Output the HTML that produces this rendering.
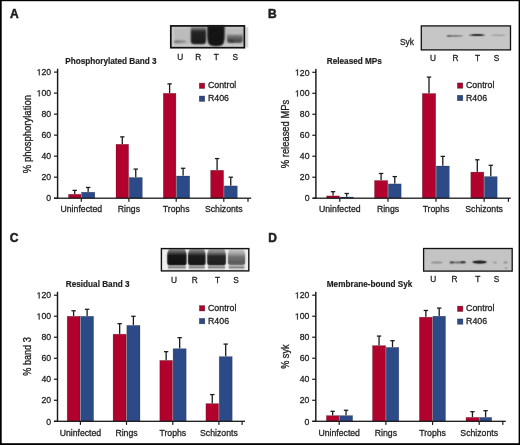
<!DOCTYPE html><html><head><meta charset="utf-8"><style>
html,body{margin:0;padding:0;background:#fff;width:520px;height:445px;overflow:hidden}
svg{display:block;will-change:transform}
text{font-family:"Liberation Sans",sans-serif;fill:#1e1e1e;stroke:#1e1e1e;stroke-width:0.28px}
.b{font-weight:bold;stroke-width:0.18px}
</style></head><body>
<svg width="520" height="445" viewBox="0 0 520 445">
<defs><filter id="bl1" x="-20%" y="-50%" width="140%" height="200%"><feGaussianBlur stdDeviation="0.8"/></filter><filter id="bl3" color-interpolation-filters="sRGB" x="-30%" y="-300%" width="160%" height="700%"><feConvolveMatrix order="3" kernelMatrix="0.02768 0.11101 0.02768 0.11101 0.44521 0.11101 0.02768 0.11101 0.02768" edgeMode="none"/></filter><filter id="bl4" color-interpolation-filters="sRGB" x="-20%" y="-50%" width="140%" height="200%"><feConvolveMatrix order="5" kernelMatrix="0.00048 0.00501 0.01095 0.00501 0.00048 0.00501 0.05222 0.11405 0.05222 0.00501 0.01095 0.11405 0.24912 0.11405 0.01095 0.00501 0.05222 0.11405 0.05222 0.00501 0.00048 0.00501 0.01095 0.00501 0.00048" edgeMode="none"/></filter><filter id="bl2" color-interpolation-filters="sRGB" x="-20%" y="-50%" width="140%" height="200%"><feConvolveMatrix order="3" kernelMatrix="0.01917 0.10012 0.01917 0.10012 0.52283 0.10012 0.01917 0.10012 0.01917" edgeMode="none"/></filter></defs>
<rect width="520" height="445" fill="#fff"/>
<text class="b" style="stroke-width:0.5px" x="9.9" y="17.8" font-size="12">A</text>
<text class="b" x="65.2" y="63.7" font-size="8.2">Phosphorylated Band 3</text>
<rect x="68.5" y="194.3" width="12.4" height="3.9" fill="#b0022c" stroke="rgba(0,0,0,0.3)" stroke-width="0.6"/>
<rect x="81.5" y="192.2" width="13.3" height="6" fill="#2d4a88" stroke="rgba(0,0,0,0.3)" stroke-width="0.6"/>
<rect x="74.05" y="190.35" width="1.3" height="3.65" fill="#1a1a1a"/>
<rect x="72.5" y="189.75" width="4.4" height="1.25" fill="#1a1a1a"/>
<rect x="87.5" y="187.45" width="1.3" height="4.45" fill="#1a1a1a"/>
<rect x="85.95" y="186.85" width="4.4" height="1.25" fill="#1a1a1a"/>
<rect x="116" y="144.3" width="12.6" height="53.9" fill="#b0022c" stroke="rgba(0,0,0,0.3)" stroke-width="0.6"/>
<rect x="129.2" y="177.5" width="13.1" height="20.7" fill="#2d4a88" stroke="rgba(0,0,0,0.3)" stroke-width="0.6"/>
<rect x="121.65" y="136.85" width="1.3" height="7.15" fill="#1a1a1a"/>
<rect x="120.1" y="136.25" width="4.4" height="1.25" fill="#1a1a1a"/>
<rect x="135.1" y="169.05" width="1.3" height="8.15" fill="#1a1a1a"/>
<rect x="133.55" y="168.45" width="4.4" height="1.25" fill="#1a1a1a"/>
<rect x="163.3" y="93.3" width="12.6" height="104.9" fill="#b0022c" stroke="rgba(0,0,0,0.3)" stroke-width="0.6"/>
<rect x="176.5" y="176" width="13.2" height="22.2" fill="#2d4a88" stroke="rgba(0,0,0,0.3)" stroke-width="0.6"/>
<rect x="168.95" y="83.85" width="1.3" height="9.15" fill="#1a1a1a"/>
<rect x="167.4" y="83.25" width="4.4" height="1.25" fill="#1a1a1a"/>
<rect x="182.45" y="168.25" width="1.3" height="7.45" fill="#1a1a1a"/>
<rect x="180.9" y="167.65" width="4.4" height="1.25" fill="#1a1a1a"/>
<rect x="210.6" y="170.3" width="13" height="27.9" fill="#b0022c" stroke="rgba(0,0,0,0.3)" stroke-width="0.6"/>
<rect x="224.2" y="185.9" width="13.1" height="12.3" fill="#2d4a88" stroke="rgba(0,0,0,0.3)" stroke-width="0.6"/>
<rect x="216.45" y="158.55" width="1.3" height="11.45" fill="#1a1a1a"/>
<rect x="214.9" y="157.95" width="4.4" height="1.25" fill="#1a1a1a"/>
<rect x="230.1" y="177.15" width="1.3" height="8.45" fill="#1a1a1a"/>
<rect x="228.55" y="176.55" width="4.4" height="1.25" fill="#1a1a1a"/>
<rect x="56.88" y="68.7" width="1.45" height="130.1" fill="#1a1a1a"/>
<rect x="54" y="197.6" width="3.6" height="1.2" fill="#1a1a1a"/>
<text x="46.36" y="201.4" font-size="8.7">0</text>
<rect x="54" y="176.58" width="3.6" height="1.2" fill="#1a1a1a"/>
<text x="41.52" y="180.38" font-size="8.7">2</text>
<text x="46.36" y="180.38" font-size="8.7">0</text>
<rect x="54" y="155.57" width="3.6" height="1.2" fill="#1a1a1a"/>
<text x="41.52" y="159.37" font-size="8.7">4</text>
<text x="46.36" y="159.37" font-size="8.7">0</text>
<rect x="54" y="134.55" width="3.6" height="1.2" fill="#1a1a1a"/>
<text x="41.52" y="138.35" font-size="8.7">6</text>
<text x="46.36" y="138.35" font-size="8.7">0</text>
<rect x="54" y="113.53" width="3.6" height="1.2" fill="#1a1a1a"/>
<text x="41.52" y="117.33" font-size="8.7">8</text>
<text x="46.36" y="117.33" font-size="8.7">0</text>
<rect x="54" y="92.52" width="3.6" height="1.2" fill="#1a1a1a"/>
<path d="M515 0H696V1409H530L197 1180V1010L515 1237Z" transform="translate(36.68 96.32) scale(0.004248 -0.004248)" fill="#1e1e1e" stroke="#1e1e1e" stroke-width="65.91"/>
<text x="41.52" y="96.32" font-size="8.7">0</text>
<text x="46.36" y="96.32" font-size="8.7">0</text>
<rect x="54" y="71.5" width="3.6" height="1.2" fill="#1a1a1a"/>
<path d="M515 0H696V1409H530L197 1180V1010L515 1237Z" transform="translate(36.68 75.3) scale(0.004248 -0.004248)" fill="#1e1e1e" stroke="#1e1e1e" stroke-width="65.91"/>
<text x="41.52" y="75.3" font-size="8.7">2</text>
<text x="46.36" y="75.3" font-size="8.7">0</text>
<rect x="54" y="197.55" width="197.2" height="1.3" fill="#1a1a1a"/>
<rect x="80.7" y="198.2" width="1.2" height="3.6" fill="#1a1a1a"/>
<rect x="128.3" y="198.2" width="1.2" height="3.6" fill="#1a1a1a"/>
<rect x="175.6" y="198.2" width="1.2" height="3.6" fill="#1a1a1a"/>
<rect x="223.2" y="198.2" width="1.2" height="3.6" fill="#1a1a1a"/>
<rect x="247.4" y="198.2" width="1.2" height="3.6" fill="#1a1a1a"/>
<text x="81.3" y="212.4" font-size="8.7" text-anchor="middle">Uninfected</text>
<text x="128.9" y="212.4" font-size="8.7" text-anchor="middle">Rings</text>
<text x="176.2" y="212.4" font-size="8.7" text-anchor="middle">Trophs</text>
<text x="223.8" y="212.4" font-size="8.7" text-anchor="middle">Schizonts</text>
<text x="0" y="0" font-size="9.5" text-anchor="middle" transform="translate(30.8 134.1) rotate(-90) scale(1 1.12)">% phosphorylation</text>
<rect x="199.35" y="83.15" width="5.3" height="5.3" fill="#b0022c" stroke="rgba(0,0,0,0.45)" stroke-width="0.7"/>
<rect x="199.35" y="96.05" width="5.3" height="5.3" fill="#2d4a88" stroke="rgba(0,0,0,0.45)" stroke-width="0.7"/>
<text x="207.9" y="88.4" font-size="8.8">Control</text>
<text x="207.9" y="101.3" font-size="8.8">R406</text>
<text x="180.3" y="60.4" font-size="8.3" text-anchor="middle">U</text>
<text x="198.3" y="60.4" font-size="8.3" text-anchor="middle">R</text>
<text x="216.3" y="60.4" font-size="8.3" text-anchor="middle">T</text>
<text x="235.3" y="60.4" font-size="8.3" text-anchor="middle">S</text>
<text class="b" style="stroke-width:0.5px" x="268.1" y="17.8" font-size="12">B</text>
<text class="b" x="326.8" y="63.5" font-size="8.2">Released MPs</text>
<rect x="326.6" y="195.9" width="12.9" height="2.3" fill="#b0022c" stroke="rgba(0,0,0,0.3)" stroke-width="0.6"/>
<rect x="340.1" y="197" width="13.2" height="1.2" fill="#2d4a88" stroke="rgba(0,0,0,0.3)" stroke-width="0.6"/>
<rect x="332.4" y="191.65" width="1.3" height="3.95" fill="#1a1a1a"/>
<rect x="330.85" y="191.05" width="4.4" height="1.25" fill="#1a1a1a"/>
<rect x="346.05" y="193.45" width="1.3" height="3.25" fill="#1a1a1a"/>
<rect x="344.5" y="192.85" width="4.4" height="1.25" fill="#1a1a1a"/>
<rect x="374.5" y="180.5" width="13.2" height="17.7" fill="#b0022c" stroke="rgba(0,0,0,0.3)" stroke-width="0.6"/>
<rect x="388.3" y="183.9" width="12.9" height="14.3" fill="#2d4a88" stroke="rgba(0,0,0,0.3)" stroke-width="0.6"/>
<rect x="380.45" y="173.45" width="1.3" height="6.75" fill="#1a1a1a"/>
<rect x="378.9" y="172.85" width="4.4" height="1.25" fill="#1a1a1a"/>
<rect x="394.1" y="176.55" width="1.3" height="7.05" fill="#1a1a1a"/>
<rect x="392.55" y="175.95" width="4.4" height="1.25" fill="#1a1a1a"/>
<rect x="422.3" y="93.5" width="13.4" height="104.7" fill="#b0022c" stroke="rgba(0,0,0,0.3)" stroke-width="0.6"/>
<rect x="436.3" y="166" width="13" height="32.2" fill="#2d4a88" stroke="rgba(0,0,0,0.3)" stroke-width="0.6"/>
<rect x="428.35" y="77.05" width="1.3" height="16.15" fill="#1a1a1a"/>
<rect x="426.8" y="76.45" width="4.4" height="1.25" fill="#1a1a1a"/>
<rect x="442.15" y="156.35" width="1.3" height="9.35" fill="#1a1a1a"/>
<rect x="440.6" y="155.75" width="4.4" height="1.25" fill="#1a1a1a"/>
<rect x="470.8" y="172.1" width="13" height="26.1" fill="#b0022c" stroke="rgba(0,0,0,0.3)" stroke-width="0.6"/>
<rect x="484.4" y="176.6" width="12.8" height="21.6" fill="#2d4a88" stroke="rgba(0,0,0,0.3)" stroke-width="0.6"/>
<rect x="476.65" y="159.75" width="1.3" height="12.05" fill="#1a1a1a"/>
<rect x="475.1" y="159.15" width="4.4" height="1.25" fill="#1a1a1a"/>
<rect x="490.15" y="165.25" width="1.3" height="11.05" fill="#1a1a1a"/>
<rect x="488.6" y="164.65" width="4.4" height="1.25" fill="#1a1a1a"/>
<rect x="315.18" y="68.9" width="1.45" height="129.9" fill="#1a1a1a"/>
<rect x="312.3" y="197.6" width="3.6" height="1.2" fill="#1a1a1a"/>
<text x="304.66" y="201.4" font-size="8.7">0</text>
<rect x="312.3" y="176.62" width="3.6" height="1.2" fill="#1a1a1a"/>
<text x="299.82" y="180.42" font-size="8.7">2</text>
<text x="304.66" y="180.42" font-size="8.7">0</text>
<rect x="312.3" y="155.63" width="3.6" height="1.2" fill="#1a1a1a"/>
<text x="299.82" y="159.43" font-size="8.7">4</text>
<text x="304.66" y="159.43" font-size="8.7">0</text>
<rect x="312.3" y="134.65" width="3.6" height="1.2" fill="#1a1a1a"/>
<text x="299.82" y="138.45" font-size="8.7">6</text>
<text x="304.66" y="138.45" font-size="8.7">0</text>
<rect x="312.3" y="113.67" width="3.6" height="1.2" fill="#1a1a1a"/>
<text x="299.82" y="117.47" font-size="8.7">8</text>
<text x="304.66" y="117.47" font-size="8.7">0</text>
<rect x="312.3" y="92.68" width="3.6" height="1.2" fill="#1a1a1a"/>
<path d="M515 0H696V1409H530L197 1180V1010L515 1237Z" transform="translate(294.98 96.48) scale(0.004248 -0.004248)" fill="#1e1e1e" stroke="#1e1e1e" stroke-width="65.91"/>
<text x="299.82" y="96.48" font-size="8.7">0</text>
<text x="304.66" y="96.48" font-size="8.7">0</text>
<rect x="312.3" y="71.7" width="3.6" height="1.2" fill="#1a1a1a"/>
<path d="M515 0H696V1409H530L197 1180V1010L515 1237Z" transform="translate(294.98 75.5) scale(0.004248 -0.004248)" fill="#1e1e1e" stroke="#1e1e1e" stroke-width="65.91"/>
<text x="299.82" y="75.5" font-size="8.7">2</text>
<text x="304.66" y="75.5" font-size="8.7">0</text>
<rect x="312.7" y="197.55" width="198.1" height="1.3" fill="#1a1a1a"/>
<rect x="339.2" y="198.2" width="1.2" height="3.6" fill="#1a1a1a"/>
<rect x="387.4" y="198.2" width="1.2" height="3.6" fill="#1a1a1a"/>
<rect x="435.4" y="198.2" width="1.2" height="3.6" fill="#1a1a1a"/>
<rect x="483.5" y="198.2" width="1.2" height="3.6" fill="#1a1a1a"/>
<rect x="507.8" y="198.2" width="1.2" height="3.6" fill="#1a1a1a"/>
<text x="339.8" y="212.4" font-size="8.7" text-anchor="middle">Uninfected</text>
<text x="388" y="212.4" font-size="8.7" text-anchor="middle">Rings</text>
<text x="436" y="212.4" font-size="8.7" text-anchor="middle">Trophs</text>
<text x="484.1" y="212.4" font-size="8.7" text-anchor="middle">Schizonts</text>
<text x="0" y="0" font-size="9.4" text-anchor="middle" transform="translate(289.1 134) rotate(-90) scale(1 1.12)">% released MPs</text>
<rect x="457.45" y="82.95" width="5.3" height="5.3" fill="#b0022c" stroke="rgba(0,0,0,0.45)" stroke-width="0.7"/>
<rect x="457.45" y="95.35" width="5.3" height="5.3" fill="#2d4a88" stroke="rgba(0,0,0,0.45)" stroke-width="0.7"/>
<text x="466" y="88.2" font-size="8.8">Control</text>
<text x="466" y="100.6" font-size="8.8">R406</text>
<text x="433.1" y="60.7" font-size="8.3" text-anchor="middle">U</text>
<text x="455.5" y="60.7" font-size="8.3" text-anchor="middle">R</text>
<text x="477.5" y="60.7" font-size="8.3" text-anchor="middle">T</text>
<text x="496.6" y="60.7" font-size="8.3" text-anchor="middle">S</text>
<text class="b" style="stroke-width:0.5px" x="9.7" y="241.7" font-size="12">C</text>
<text class="b" x="65.8" y="287.3" font-size="8.2">Residual Band 3</text>
<rect x="67.2" y="316.3" width="12.8" height="105" fill="#b0022c" stroke="rgba(0,0,0,0.3)" stroke-width="0.6"/>
<rect x="80.6" y="316.3" width="13" height="105" fill="#2d4a88" stroke="rgba(0,0,0,0.3)" stroke-width="0.6"/>
<rect x="72.95" y="310.75" width="1.3" height="5.25" fill="#1a1a1a"/>
<rect x="71.4" y="310.15" width="4.4" height="1.25" fill="#1a1a1a"/>
<rect x="86.45" y="309.25" width="1.3" height="6.75" fill="#1a1a1a"/>
<rect x="84.9" y="308.65" width="4.4" height="1.25" fill="#1a1a1a"/>
<rect x="113.1" y="334.2" width="13.1" height="87.1" fill="#b0022c" stroke="rgba(0,0,0,0.3)" stroke-width="0.6"/>
<rect x="126.8" y="325.4" width="13.2" height="95.9" fill="#2d4a88" stroke="rgba(0,0,0,0.3)" stroke-width="0.6"/>
<rect x="119" y="323.65" width="1.3" height="10.25" fill="#1a1a1a"/>
<rect x="117.45" y="323.05" width="4.4" height="1.25" fill="#1a1a1a"/>
<rect x="132.75" y="316.25" width="1.3" height="8.85" fill="#1a1a1a"/>
<rect x="131.2" y="315.65" width="4.4" height="1.25" fill="#1a1a1a"/>
<rect x="159.8" y="360.4" width="12.7" height="60.9" fill="#b0022c" stroke="rgba(0,0,0,0.3)" stroke-width="0.6"/>
<rect x="173.1" y="348.7" width="13.1" height="72.6" fill="#2d4a88" stroke="rgba(0,0,0,0.3)" stroke-width="0.6"/>
<rect x="165.5" y="351.65" width="1.3" height="8.45" fill="#1a1a1a"/>
<rect x="163.95" y="351.05" width="4.4" height="1.25" fill="#1a1a1a"/>
<rect x="179" y="337.65" width="1.3" height="10.75" fill="#1a1a1a"/>
<rect x="177.45" y="337.05" width="4.4" height="1.25" fill="#1a1a1a"/>
<rect x="205.9" y="403.6" width="12.7" height="17.7" fill="#b0022c" stroke="rgba(0,0,0,0.3)" stroke-width="0.6"/>
<rect x="219.2" y="356.6" width="13" height="64.7" fill="#2d4a88" stroke="rgba(0,0,0,0.3)" stroke-width="0.6"/>
<rect x="211.6" y="394.55" width="1.3" height="8.75" fill="#1a1a1a"/>
<rect x="210.05" y="393.95" width="4.4" height="1.25" fill="#1a1a1a"/>
<rect x="225.05" y="344.05" width="1.3" height="12.25" fill="#1a1a1a"/>
<rect x="223.5" y="343.45" width="4.4" height="1.25" fill="#1a1a1a"/>
<rect x="56.78" y="291.8" width="1.45" height="130.1" fill="#1a1a1a"/>
<rect x="53.9" y="420.7" width="3.6" height="1.2" fill="#1a1a1a"/>
<text x="46.26" y="424.5" font-size="8.7">0</text>
<rect x="53.9" y="399.68" width="3.6" height="1.2" fill="#1a1a1a"/>
<text x="41.42" y="403.48" font-size="8.7">2</text>
<text x="46.26" y="403.48" font-size="8.7">0</text>
<rect x="53.9" y="378.67" width="3.6" height="1.2" fill="#1a1a1a"/>
<text x="41.42" y="382.47" font-size="8.7">4</text>
<text x="46.26" y="382.47" font-size="8.7">0</text>
<rect x="53.9" y="357.65" width="3.6" height="1.2" fill="#1a1a1a"/>
<text x="41.42" y="361.45" font-size="8.7">6</text>
<text x="46.26" y="361.45" font-size="8.7">0</text>
<rect x="53.9" y="336.63" width="3.6" height="1.2" fill="#1a1a1a"/>
<text x="41.42" y="340.43" font-size="8.7">8</text>
<text x="46.26" y="340.43" font-size="8.7">0</text>
<rect x="53.9" y="315.62" width="3.6" height="1.2" fill="#1a1a1a"/>
<path d="M515 0H696V1409H530L197 1180V1010L515 1237Z" transform="translate(36.58 319.42) scale(0.004248 -0.004248)" fill="#1e1e1e" stroke="#1e1e1e" stroke-width="65.91"/>
<text x="41.42" y="319.42" font-size="8.7">0</text>
<text x="46.26" y="319.42" font-size="8.7">0</text>
<rect x="53.9" y="294.6" width="3.6" height="1.2" fill="#1a1a1a"/>
<path d="M515 0H696V1409H530L197 1180V1010L515 1237Z" transform="translate(36.58 298.4) scale(0.004248 -0.004248)" fill="#1e1e1e" stroke="#1e1e1e" stroke-width="65.91"/>
<text x="41.42" y="298.4" font-size="8.7">2</text>
<text x="46.26" y="298.4" font-size="8.7">0</text>
<rect x="54" y="420.65" width="191" height="1.3" fill="#1a1a1a"/>
<rect x="79.8" y="421.3" width="1.2" height="3.6" fill="#1a1a1a"/>
<rect x="125.9" y="421.3" width="1.2" height="3.6" fill="#1a1a1a"/>
<rect x="172.2" y="421.3" width="1.2" height="3.6" fill="#1a1a1a"/>
<rect x="218.3" y="421.3" width="1.2" height="3.6" fill="#1a1a1a"/>
<rect x="241.5" y="421.3" width="1.2" height="3.6" fill="#1a1a1a"/>
<text x="80.4" y="435.5" font-size="8.7" text-anchor="middle">Uninfected</text>
<text x="126.5" y="435.5" font-size="8.7" text-anchor="middle">Rings</text>
<text x="172.8" y="435.5" font-size="8.7" text-anchor="middle">Trophs</text>
<text x="218.9" y="435.5" font-size="8.7" text-anchor="middle">Schizonts</text>
<text x="0" y="0" font-size="9.1" text-anchor="middle" transform="translate(30.7 356.5) rotate(-90) scale(1 1.12)">% band 3</text>
<rect x="199.45" y="305.65" width="5.3" height="5.3" fill="#b0022c" stroke="rgba(0,0,0,0.45)" stroke-width="0.7"/>
<rect x="199.45" y="318.45" width="5.3" height="5.3" fill="#2d4a88" stroke="rgba(0,0,0,0.45)" stroke-width="0.7"/>
<text x="208" y="310.9" font-size="8.8">Control</text>
<text x="208" y="323.7" font-size="8.8">R406</text>
<text x="174" y="283" font-size="8.3" text-anchor="middle">U</text>
<text x="194.7" y="283" font-size="8.3" text-anchor="middle">R</text>
<text x="217.6" y="283" font-size="8.3" text-anchor="middle">T</text>
<text x="236" y="283" font-size="8.3" text-anchor="middle">S</text>
<text class="b" style="stroke-width:0.5px" x="268.2" y="241.7" font-size="12">D</text>
<text class="b" x="326.8" y="287.2" font-size="8.2">Membrane-bound Syk</text>
<rect x="326.4" y="415.6" width="12.5" height="5.7" fill="#b0022c" stroke="rgba(0,0,0,0.3)" stroke-width="0.6"/>
<rect x="339.5" y="415.6" width="13.1" height="5.7" fill="#2d4a88" stroke="rgba(0,0,0,0.3)" stroke-width="0.6"/>
<rect x="332" y="411.25" width="1.3" height="4.05" fill="#1a1a1a"/>
<rect x="330.45" y="410.65" width="4.4" height="1.25" fill="#1a1a1a"/>
<rect x="345.4" y="410.25" width="1.3" height="5.05" fill="#1a1a1a"/>
<rect x="343.85" y="409.65" width="4.4" height="1.25" fill="#1a1a1a"/>
<rect x="372.5" y="345.6" width="13.1" height="75.7" fill="#b0022c" stroke="rgba(0,0,0,0.3)" stroke-width="0.6"/>
<rect x="386.2" y="347.4" width="12.6" height="73.9" fill="#2d4a88" stroke="rgba(0,0,0,0.3)" stroke-width="0.6"/>
<rect x="378.4" y="336.05" width="1.3" height="9.25" fill="#1a1a1a"/>
<rect x="376.85" y="335.45" width="4.4" height="1.25" fill="#1a1a1a"/>
<rect x="391.85" y="340.65" width="1.3" height="6.45" fill="#1a1a1a"/>
<rect x="390.3" y="340.05" width="4.4" height="1.25" fill="#1a1a1a"/>
<rect x="419.4" y="317.2" width="12.9" height="104.1" fill="#b0022c" stroke="rgba(0,0,0,0.3)" stroke-width="0.6"/>
<rect x="432.9" y="316.2" width="12.6" height="105.1" fill="#2d4a88" stroke="rgba(0,0,0,0.3)" stroke-width="0.6"/>
<rect x="425.2" y="310.45" width="1.3" height="6.45" fill="#1a1a1a"/>
<rect x="423.65" y="309.85" width="4.4" height="1.25" fill="#1a1a1a"/>
<rect x="438.55" y="308.05" width="1.3" height="7.85" fill="#1a1a1a"/>
<rect x="437" y="307.45" width="4.4" height="1.25" fill="#1a1a1a"/>
<rect x="466" y="417.4" width="12.9" height="3.9" fill="#b0022c" stroke="rgba(0,0,0,0.3)" stroke-width="0.6"/>
<rect x="479.5" y="417.4" width="12.2" height="3.9" fill="#2d4a88" stroke="rgba(0,0,0,0.3)" stroke-width="0.6"/>
<rect x="471.8" y="411.65" width="1.3" height="5.45" fill="#1a1a1a"/>
<rect x="470.25" y="411.05" width="4.4" height="1.25" fill="#1a1a1a"/>
<rect x="484.95" y="410.65" width="1.3" height="6.45" fill="#1a1a1a"/>
<rect x="483.4" y="410.05" width="4.4" height="1.25" fill="#1a1a1a"/>
<rect x="315.08" y="291.8" width="1.45" height="130.1" fill="#1a1a1a"/>
<rect x="312.2" y="420.7" width="3.6" height="1.2" fill="#1a1a1a"/>
<text x="304.56" y="424.5" font-size="8.7">0</text>
<rect x="312.2" y="399.68" width="3.6" height="1.2" fill="#1a1a1a"/>
<text x="299.72" y="403.48" font-size="8.7">2</text>
<text x="304.56" y="403.48" font-size="8.7">0</text>
<rect x="312.2" y="378.67" width="3.6" height="1.2" fill="#1a1a1a"/>
<text x="299.72" y="382.47" font-size="8.7">4</text>
<text x="304.56" y="382.47" font-size="8.7">0</text>
<rect x="312.2" y="357.65" width="3.6" height="1.2" fill="#1a1a1a"/>
<text x="299.72" y="361.45" font-size="8.7">6</text>
<text x="304.56" y="361.45" font-size="8.7">0</text>
<rect x="312.2" y="336.63" width="3.6" height="1.2" fill="#1a1a1a"/>
<text x="299.72" y="340.43" font-size="8.7">8</text>
<text x="304.56" y="340.43" font-size="8.7">0</text>
<rect x="312.2" y="315.62" width="3.6" height="1.2" fill="#1a1a1a"/>
<path d="M515 0H696V1409H530L197 1180V1010L515 1237Z" transform="translate(294.88 319.42) scale(0.004248 -0.004248)" fill="#1e1e1e" stroke="#1e1e1e" stroke-width="65.91"/>
<text x="299.72" y="319.42" font-size="8.7">0</text>
<text x="304.56" y="319.42" font-size="8.7">0</text>
<rect x="312.2" y="294.6" width="3.6" height="1.2" fill="#1a1a1a"/>
<path d="M515 0H696V1409H530L197 1180V1010L515 1237Z" transform="translate(294.88 298.4) scale(0.004248 -0.004248)" fill="#1e1e1e" stroke="#1e1e1e" stroke-width="65.91"/>
<text x="299.72" y="298.4" font-size="8.7">2</text>
<text x="304.56" y="298.4" font-size="8.7">0</text>
<rect x="312.5" y="420.65" width="193.3" height="1.3" fill="#1a1a1a"/>
<rect x="338.6" y="421.3" width="1.2" height="3.6" fill="#1a1a1a"/>
<rect x="385.3" y="421.3" width="1.2" height="3.6" fill="#1a1a1a"/>
<rect x="432" y="421.3" width="1.2" height="3.6" fill="#1a1a1a"/>
<rect x="478.6" y="421.3" width="1.2" height="3.6" fill="#1a1a1a"/>
<rect x="502.2" y="421.3" width="1.2" height="3.6" fill="#1a1a1a"/>
<text x="339.2" y="435.5" font-size="8.7" text-anchor="middle">Uninfected</text>
<text x="385.9" y="435.5" font-size="8.7" text-anchor="middle">Rings</text>
<text x="432.6" y="435.5" font-size="8.7" text-anchor="middle">Trophs</text>
<text x="479.2" y="435.5" font-size="8.7" text-anchor="middle">Schizonts</text>
<text x="0" y="0" font-size="9.2" text-anchor="middle" transform="translate(288.9 356.6) rotate(-90) scale(1 1.12)">% syk</text>
<rect x="457.55" y="306.15" width="5.3" height="5.3" fill="#b0022c" stroke="rgba(0,0,0,0.45)" stroke-width="0.7"/>
<rect x="457.55" y="318.95" width="5.3" height="5.3" fill="#2d4a88" stroke="rgba(0,0,0,0.45)" stroke-width="0.7"/>
<text x="466.1" y="311.4" font-size="8.8">Control</text>
<text x="466.1" y="324.2" font-size="8.8">R406</text>
<text x="433.3" y="282.3" font-size="8.3" text-anchor="middle">U</text>
<text x="454.6" y="282.3" font-size="8.3" text-anchor="middle">R</text>
<text x="477.7" y="282.3" font-size="8.3" text-anchor="middle">T</text>
<text x="496.6" y="282.3" font-size="8.3" text-anchor="middle">S</text>
<defs><linearGradient id="gR" x1="0" y1="0" x2="0" y2="1"><stop offset="0" stop-color="#9c9c9c"/><stop offset="0.1" stop-color="#7e7e7e"/><stop offset="0.24" stop-color="#3a3a3a"/><stop offset="0.34" stop-color="#222"/><stop offset="1" stop-color="#1c1c1c"/></linearGradient><linearGradient id="gS" x1="0" y1="0" x2="0" y2="1"><stop offset="0" stop-color="#8a8a8a"/><stop offset="0.5" stop-color="#5a5a5a"/><stop offset="1" stop-color="#404040"/></linearGradient><linearGradient id="gC1" x1="0" y1="0" x2="0" y2="1"><stop offset="0" stop-color="#8e8e8e"/><stop offset="0.18" stop-color="#5a5a5a"/><stop offset="0.4" stop-color="#161616"/><stop offset="1" stop-color="#101010"/></linearGradient><linearGradient id="gC2" x1="0" y1="0" x2="0" y2="1"><stop offset="0" stop-color="#959595"/><stop offset="0.2" stop-color="#626262"/><stop offset="0.42" stop-color="#1c1c1c"/><stop offset="1" stop-color="#161616"/></linearGradient><linearGradient id="gC3" x1="0" y1="0" x2="0" y2="1"><stop offset="0" stop-color="#a8a8a8"/><stop offset="0.22" stop-color="#7a7a7a"/><stop offset="0.45" stop-color="#262626"/><stop offset="1" stop-color="#1e1e1e"/></linearGradient><linearGradient id="gC4" x1="0" y1="0" x2="0" y2="1"><stop offset="0" stop-color="#cfcfcf"/><stop offset="0.3" stop-color="#a0a0a0"/><stop offset="0.5" stop-color="#727272"/><stop offset="0.85" stop-color="#5c5c5c"/><stop offset="1" stop-color="#6a6a6a"/></linearGradient></defs>
<rect x="245.6" y="27" width="2.6" height="20.5" fill="#d4d4d4" filter="url(#bl2)"/>
<rect x="170.8" y="25.9" width="73.6" height="21.8" fill="#bcbcbc"/>
<g filter="url(#bl4)">
<rect x="171" y="26.5" width="73" height="2" fill="#c6c6c6"/>
<rect x="171" y="44.5" width="73" height="2.6" fill="#cbcbcb"/>
<rect x="171.5" y="27" width="2.5" height="19" fill="#cccccc"/>
<ellipse cx="180" cy="41.6" rx="6.5" ry="1.7" fill="#8e8e8e"/>
<ellipse cx="177" cy="41.8" rx="3" ry="1.5" fill="#808080"/>
<path d="M190.8,26.3 L206,26.3 Q206,28.3 206,35.25 L206,40.7 Q206,44.2 202.5,44.2 L194.3,44.2 Q190.8,44.2 190.8,40.7 L190.8,35.25 Q190.8,28.3 190.8,26.3 Z" fill="url(#gR)"/>
<path d="M207.3,25.8 L224.6,25.8 L224.6,36 C224.6,40 224,43 222.5,44.8 Q221,46.2 216,46.2 Q211,46.2 209.5,44.8 C208,43 207.3,40 207.3,36 Z" fill="#141414"/>
<path d="M227,34.6 L242.8,34.6 Q242.8,36.6 242.8,38.7 L242.8,39.8 Q242.8,42.8 239.8,42.8 L230,42.8 Q227,42.8 227,39.8 L227,38.7 Q227,36.6 227,34.6 Z" fill="url(#gS)"/>
<ellipse cx="231" cy="41" rx="3.5" ry="1.8" fill="#3e3e3e"/>
</g>
<rect x="170.8" y="25.9" width="73.6" height="21.8" fill="none" stroke="#111" stroke-width="1.7"/>
<rect x="421.3" y="25.9" width="89.2" height="24" fill="#c6c6c6" stroke="#111" stroke-width="1.3"/>
<g filter="url(#bl3)">
<ellipse cx="455" cy="35.9" rx="8.3" ry="0.9" fill="#7a7a7a"/>
<ellipse cx="449" cy="36" rx="2.5" ry="1" fill="#6a6a6a"/>
<ellipse cx="477" cy="35.1" rx="8.2" ry="1.0" fill="#404040"/>
<ellipse cx="477.5" cy="35.1" rx="5.5" ry="0.85" fill="#222"/>
<ellipse cx="498.5" cy="35.3" rx="7.5" ry="0.8" fill="#9c9c9c"/>
</g>
<text x="400" y="44.9" font-size="8.4">Syk</text>
<rect x="161.4" y="248.6" width="87.4" height="22.3" fill="#eeeeee"/>
<g filter="url(#bl2)">
<rect x="168" y="265.2" width="17.8" height="1.5" fill="#b4b4b4"/>
<rect x="168" y="266.7" width="17.8" height="1.2" fill="#5e5e5e"/>
<rect x="168" y="267.9" width="17.8" height="1.8" fill="#c4c4c4"/>
<rect x="188.8" y="265.2" width="16" height="1.5" fill="#b4b4b4"/>
<rect x="188.8" y="266.7" width="16" height="1.2" fill="#5e5e5e"/>
<rect x="188.8" y="267.9" width="16" height="1.8" fill="#c4c4c4"/>
<rect x="208" y="265.2" width="17.1" height="1.5" fill="#b4b4b4"/>
<rect x="208" y="266.7" width="17.1" height="1.2" fill="#5e5e5e"/>
<rect x="208" y="267.9" width="17.1" height="1.8" fill="#c4c4c4"/>
<rect x="228.7" y="265.2" width="15.7" height="1.5" fill="#b4b4b4"/>
<rect x="228.7" y="266.7" width="15.7" height="1.2" fill="#5e5e5e"/>
<rect x="228.7" y="267.9" width="15.7" height="1.8" fill="#c4c4c4"/>
<path d="M169.2,248.9 L184.6,248.9 C185.8,251.18 186.6,252.15 186.6,255.4 L186.6,262.8 Q186.6,265.3 184.1,265.3 L169.7,265.3 Q167.2,265.3 167.2,262.8 L167.2,255.4 C167.2,252.15 168,251.18 169.2,248.9 Z" fill="url(#gC1)"/>
<path d="M189.8,248.9 L203.8,248.9 C204.88,251.18 205.6,252.15 205.6,255.4 L205.6,262.8 Q205.6,265.3 203.1,265.3 L190.5,265.3 Q188,265.3 188,262.8 L188,255.4 C188,252.15 188.72,251.18 189.8,248.9 Z" fill="url(#gC2)"/>
<path d="M209,248.9 L224.1,248.9 C225.18,251.18 225.9,252.15 225.9,255.4 L225.9,262.7 Q225.9,265.2 223.4,265.2 L209.7,265.2 Q207.2,265.2 207.2,262.7 L207.2,255.4 C207.2,252.15 207.92,251.18 209,248.9 Z" fill="url(#gC3)"/>
<path d="M229.7,248.9 L243.4,248.9 C244.48,251.18 245.2,252.15 245.2,255.4 L245.2,262.5 Q245.2,265 242.7,265 L230.4,265 Q227.9,265 227.9,262.5 L227.9,255.4 C227.9,252.15 228.62,251.18 229.7,248.9 Z" fill="url(#gC4)"/>
</g>
<rect x="161.4" y="248.6" width="87.4" height="22.3" fill="none" stroke="#111" stroke-width="1.4"/>
<rect x="423.6" y="248.5" width="88.6" height="22.6" fill="#c4c4c4" stroke="#111" stroke-width="1.3"/>
<g filter="url(#bl3)">
<ellipse cx="436.8" cy="262.5" rx="6" ry="1.1" fill="#8e8e8e"/>
<ellipse cx="458" cy="262.4" rx="8" ry="1" fill="#6a6a6a"/>
<ellipse cx="451.8" cy="262.4" rx="2.2" ry="1.2" fill="#4a4a4a"/>
<ellipse cx="463" cy="262.3" rx="2.8" ry="1.3" fill="#3c3c3c"/>
<ellipse cx="479.6" cy="262.1" rx="7.4" ry="1.6" fill="#1e1e1e"/>
<ellipse cx="495" cy="262.5" rx="2" ry="0.9" fill="#9a9a9a"/>
<ellipse cx="505.5" cy="262.4" rx="2" ry="1" fill="#8a8a8a"/>
<ellipse cx="506" cy="268" rx="1.2" ry="1" fill="#9a9a9a"/>
</g>
<rect x="0" y="0" width="520" height="1.2" fill="#000"/>
<rect x="0" y="0" width="1.7" height="445" fill="#000"/>
<rect x="518.6" y="0" width="1.4" height="445" fill="#000"/>
<rect x="0" y="443.2" width="520" height="1.8" fill="#000"/>
</svg></body></html>
